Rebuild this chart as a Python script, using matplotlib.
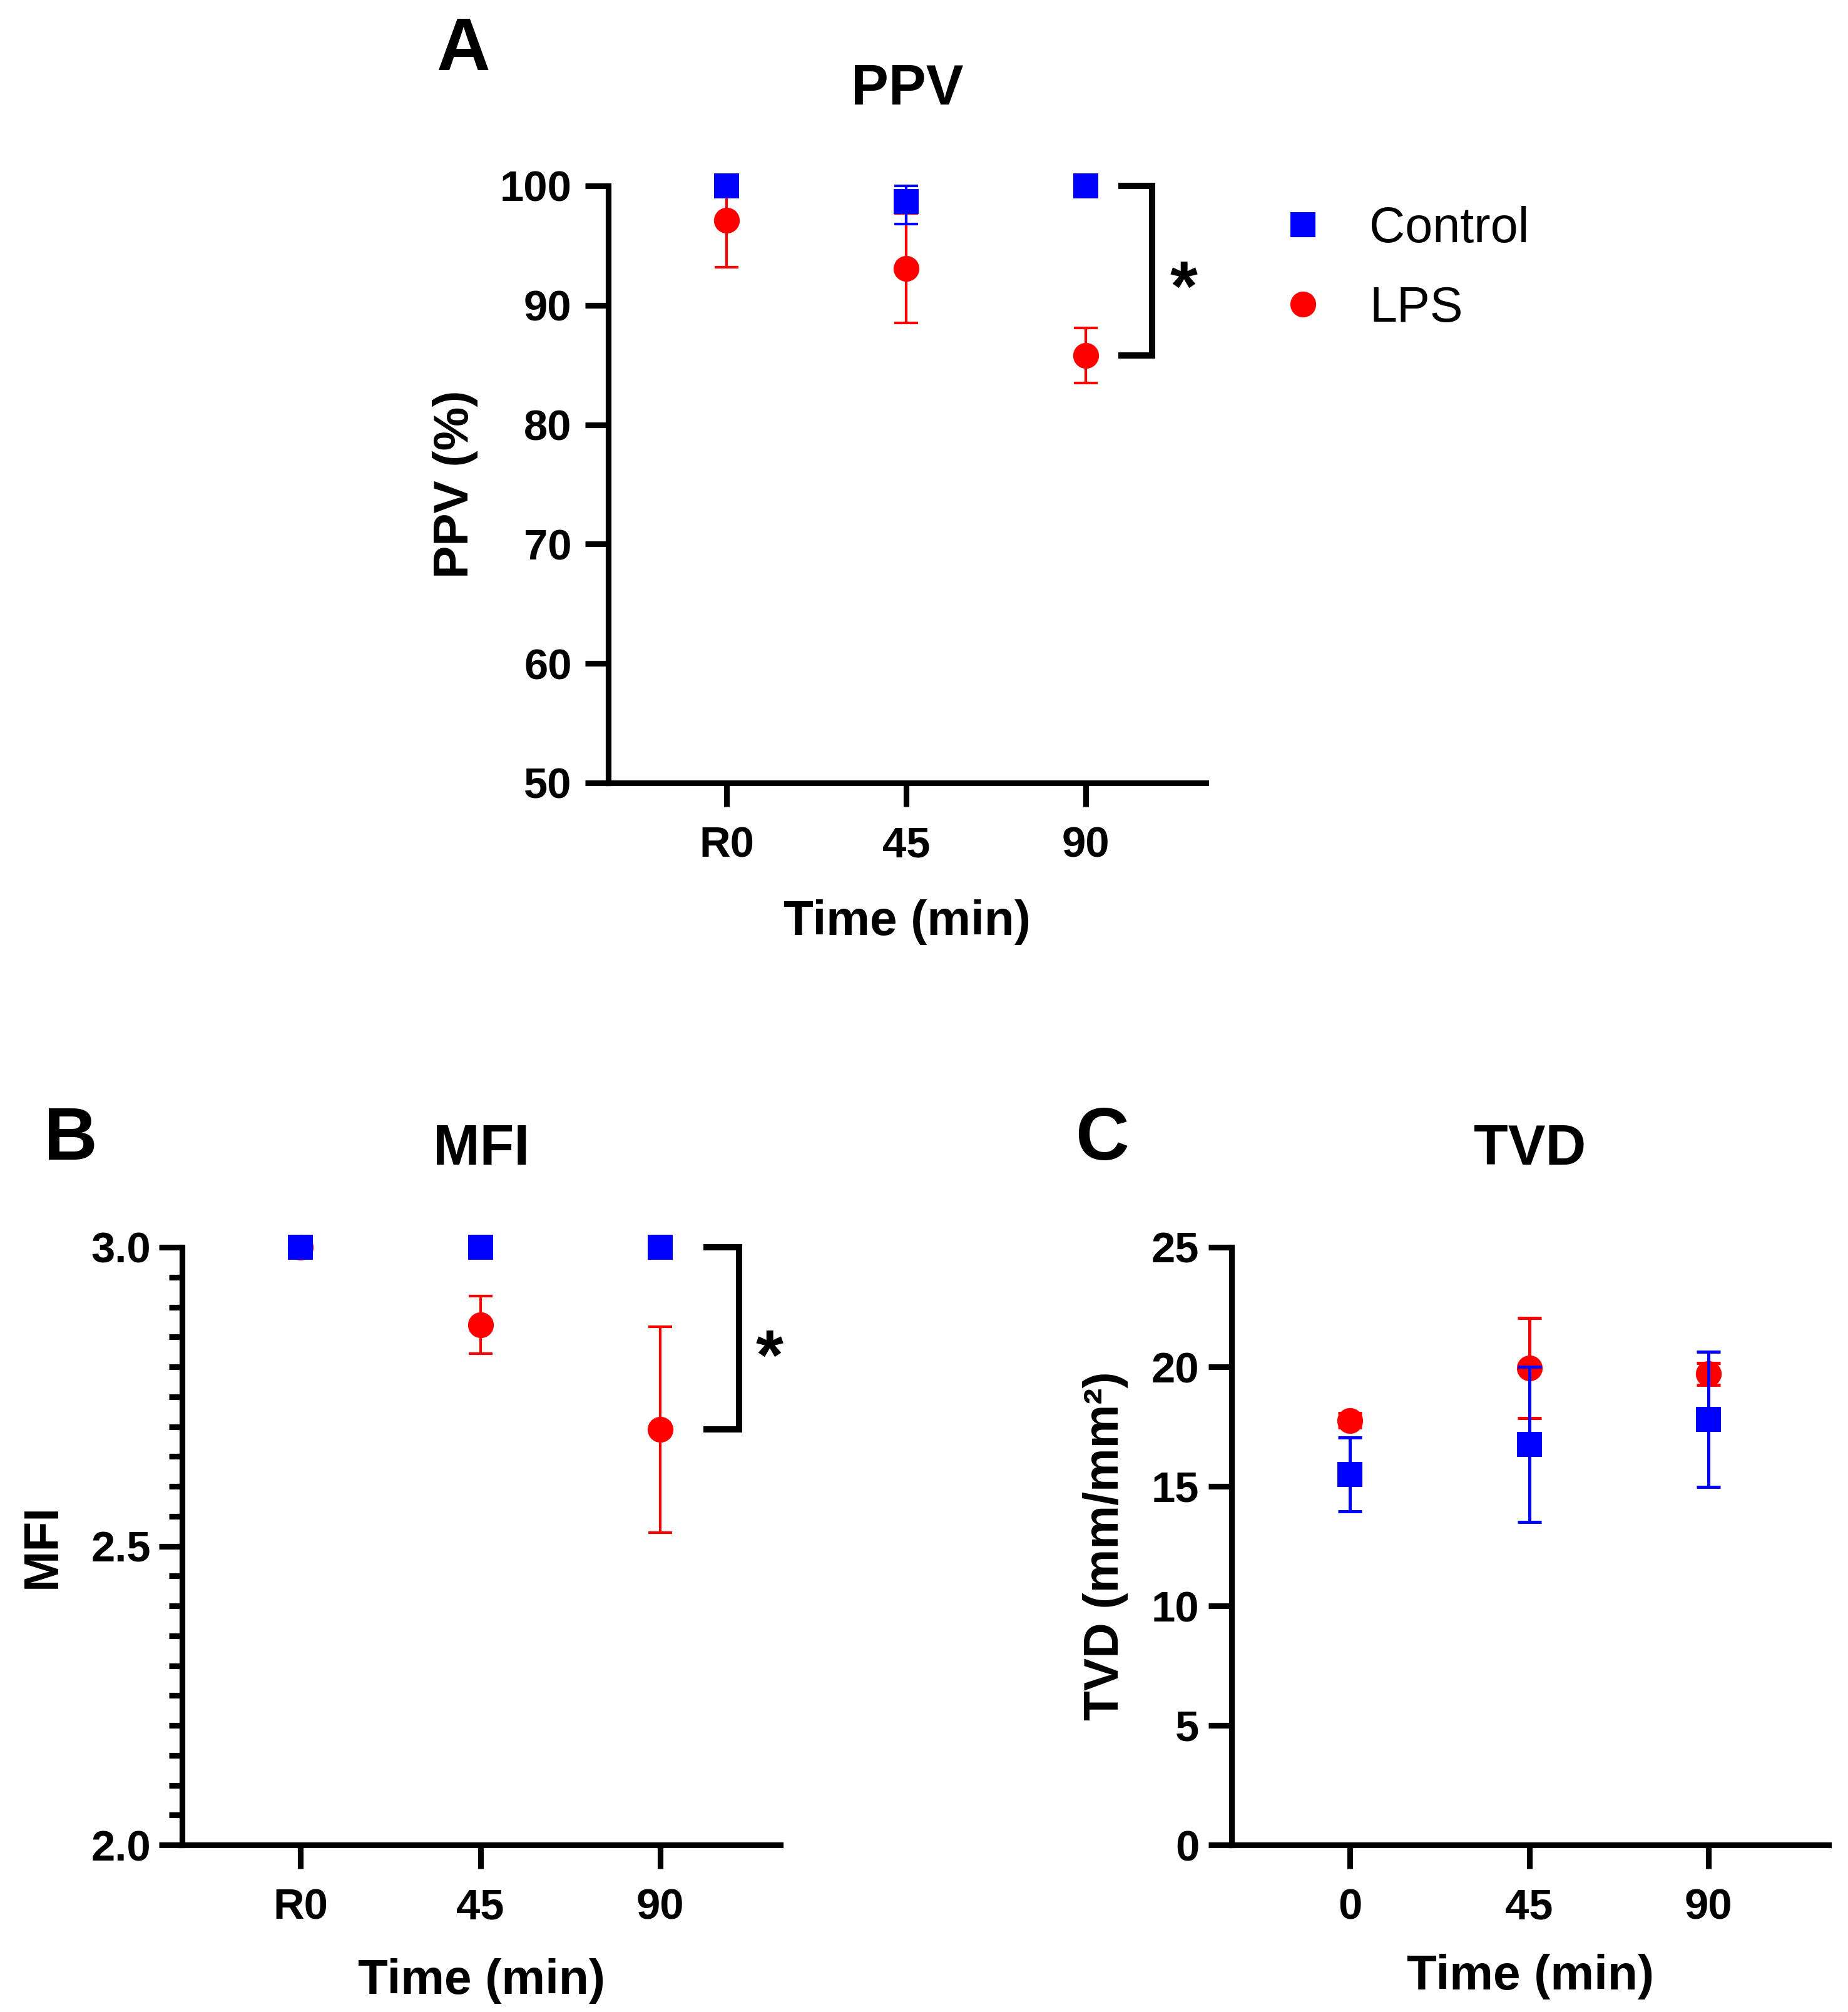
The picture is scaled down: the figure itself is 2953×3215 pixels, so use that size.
import matplotlib
matplotlib.use("Agg")
import matplotlib.pyplot as plt
from matplotlib.ticker import MultipleLocator

plt.rcParams['font.family'] = ['Liberation Sans', 'DejaVu Sans']
plt.rcParams['font.weight'] = 'bold'

BLUE = '#0000FF'
RED = '#FF0000'

# eixo x (categorias)
tempos_ab = ['R0', '45', '90']
tempos_c = ['0', '45', '90']
grupos = ['Control', 'LPS']

# A - PPV (%)
ppv_ctrl = [100.0, 98.7, 100.0]
ppv_ctrl_lo = [0.0, 1.9, 0.0]
ppv_ctrl_hi = [0.0, 1.3, 0.0]
ppv_lps = [97.1, 93.1, 85.8]
ppv_lps_lo = [3.9, 4.6, 2.3]
ppv_lps_hi = [2.9, 4.6, 2.3]

# B - MFI
mfi_ctrl = [3.0, 3.0, 3.0]
mfi_ctrl_err = [0.0, 0.0, 0.0]
mfi_lps = [3.0, 2.87, 2.695]
mfi_lps_err = [0.0, 0.048, 0.172]

# C - TVD (mm/mm2)
tvd_ctrl = [15.5, 16.75, 17.8]
tvd_ctrl_err = [1.55, 3.25, 2.82]
tvd_lps = [17.75, 19.95, 19.7]
tvd_lps_err = [0.3, 2.1, 0.45]

W, H = 2953, 3215
fig = plt.figure(figsize=(W / 300, H / 300), dpi=300)


def caixa(x0, x1, y_top, y_bot):
    # converte pixels da figura para fracoes
    return [x0 / W, 1 - y_bot / H, (x1 - x0) / W, (y_bot - y_top) / H]


def painel(ax, ctrl, ctrl_err, lps, lps_err, bar_lw=1.0):
    x = range(len(ctrl))
    l = ax.errorbar(x, lps, yerr=lps_err, fmt='o', color=RED, ms=9.9,
                    ecolor=RED, elinewidth=bar_lw, capsize=4.6, capthick=bar_lw,
                    clip_on=False, zorder=3)
    c = ax.errorbar(x, ctrl, yerr=ctrl_err, fmt='s', color=BLUE, ms=9.6,
                    ecolor=BLUE, elinewidth=bar_lw, capsize=4.6, capthick=bar_lw,
                    clip_on=False, zorder=4)
    for art in (l, c):
        art.lines[0].set_markeredgewidth(0)
        for a in art.lines[1] + art.lines[2]:
            a.set_clip_on(False)
    ax.set_xlim(-0.66, 2.67)
    for s in ('top', 'right'):
        ax.spines[s].set_visible(False)
    for s in ('left', 'bottom'):
        ax.spines[s].set_linewidth(2.2)
    ax.tick_params(axis='both', which='major', length=9, width=2.2, labelsize=16.5)
    ax.tick_params(axis='x', pad=7.5)
    return c, l


def colchete(ax, x0, x1, y0, y1, xs, ys):
    ax.plot([x0, x1, x1, x0], [y0, y0, y1, y1], color='black', lw=2.4,
            solid_joinstyle='miter', clip_on=False)
    ax.text(xs, ys, '*', fontsize=27, fontweight='bold', ha='center', va='center')


# ---------------- A ----------------
axA = fig.add_axes(caixa(972, 1927, 297, 1251))
c, l = painel(axA, ppv_ctrl, [ppv_ctrl_lo, ppv_ctrl_hi], ppv_lps, [ppv_lps_lo, ppv_lps_hi])
axA.set_ylim(50, 100)
axA.set_yticks(range(50, 101, 10))
axA.set_xticks(range(3))
axA.set_xticklabels(tempos_ab)
axA.tick_params(axis='y', pad=5)
axA.set_title('PPV', fontsize=21.5, fontweight='bold', y=1.161, va='center', pad=0)
axA.set_xlabel('Time (min)', fontsize=18.8, fontweight='bold')
axA.set_ylabel('PPV (%)', fontsize=18.8, fontweight='bold')
axA.xaxis.set_label_coords(0.5, -0.2335)
axA.xaxis.label.set_va('center')
axA.yaxis.set_label_coords(-0.2555, 0.5)
axA.yaxis.label.set_va('center')
colchete(axA, 2.20, 2.37, ppv_ctrl[2], ppv_lps[2], 2.545, 91.1)

leg = axA.legend([c[0], l[0]], grupos, loc='center left',
                 bbox_to_anchor=(2042 / W, 1 - 430 / H), bbox_transform=fig.transFigure,
                 frameon=False, borderpad=0, borderaxespad=0, handlelength=1.0,
                 handletextpad=0.85, labelspacing=0.66,
                 prop={'size': 19, 'weight': 'normal'})

# ---------------- B ----------------
axB = fig.add_axes(caixa(291, 1247, 1993, 2948))
painel(axB, mfi_ctrl, mfi_ctrl_err, mfi_lps, mfi_lps_err)
axB.set_ylim(2.0, 3.0)
axB.set_yticks([2.0, 2.5, 3.0])
axB.set_yticklabels(['2.0', '2.5', '3.0'])
axB.yaxis.set_minor_locator(MultipleLocator(0.05))
axB.tick_params(axis='y', which='minor', length=5, width=2.2)
axB.tick_params(axis='y', pad=3)
axB.set_xticks(range(3))
axB.set_xticklabels(tempos_ab)
axB.set_title('MFI', fontsize=21.5, fontweight='bold', y=1.163, va='center', pad=0)
axB.set_xlabel('Time (min)', fontsize=18.8, fontweight='bold')
axB.set_ylabel('MFI', fontsize=18.8, fontweight='bold')
axB.xaxis.set_label_coords(0.5, -0.228)
axB.xaxis.label.set_va('center')
axB.yaxis.set_label_coords(-0.233, 0.5)
axB.yaxis.label.set_va('center')
colchete(axB, 2.26, 2.44, mfi_ctrl[2], mfi_lps[2], 2.61, 2.81)

# ---------------- C ----------------
axC = fig.add_axes(caixa(1968, 2922, 1993, 2948))
painel(axC, tvd_ctrl, tvd_ctrl_err, tvd_lps, tvd_lps_err, bar_lw=1.2)
axC.set_ylim(0, 25)
axC.set_yticks(range(0, 26, 5))
axC.tick_params(axis='y', pad=3.4)
axC.set_xticks(range(3))
axC.set_xticklabels(tempos_c)
axC.set_title('TVD', fontsize=21.5, fontweight='bold', y=1.163, va='center', pad=0)
axC.set_xlabel('Time (min)', fontsize=18.8, fontweight='bold')
axC.set_ylabel('TVD (mm/mm²)', fontsize=18.8, fontweight='bold')
axC.xaxis.set_label_coords(0.5, -0.2207)
axC.xaxis.label.set_va('center')
axC.yaxis.set_label_coords(-0.2107, 0.5)
axC.yaxis.label.set_va('center')

# letras dos paineis
fig.text(740 / W, 1 - 82 / H, 'A', fontsize=28.5, fontweight='bold', ha='center', va='center')
fig.text(113 / W, 1 - 1822 / H, 'B', fontsize=28.5, fontweight='bold', ha='center', va='center')
fig.text(1761 / W, 1 - 1822 / H, 'C', fontsize=28.5, fontweight='bold', ha='center', va='center')

fig.savefig('out.png', dpi=300, facecolor='white')
